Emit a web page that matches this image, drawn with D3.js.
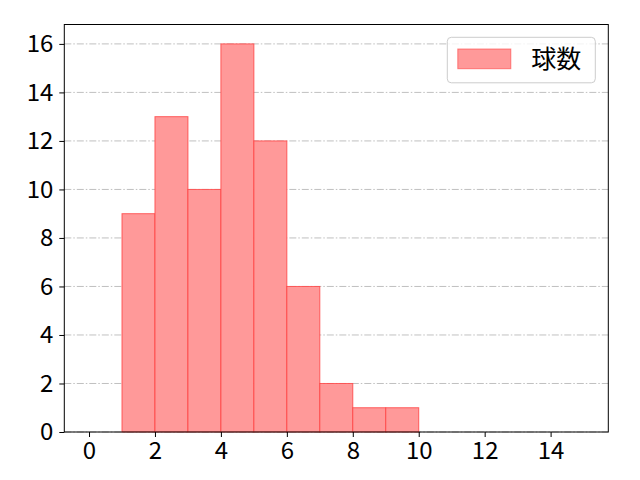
<!DOCTYPE html>
<html>
<head>
<meta charset="utf-8">
<script src="https://cdn.jsdelivr.net/npm/d3@7"></script>
<style>
  body { margin: 0; background: #fff; }
  svg text { font-family: "Noto Sans CJK JP", "Noto Sans", sans-serif; fill: #000; }
  .grid line { stroke: #b0b0b0; stroke-width: 0.8; stroke-dasharray: 7 2 1.5 2; }
  .axis path, .axis line { stroke: #000; }
</style>
</head>
<body>
<div id="chart"></div>
<script>
// Bin left edges (width 1) and pitch counts per bin
var binStarts = [0, 1, 2, 3, 4, 5, 6, 7, 8, 9, 10, 11, 12, 13, 14];
var counts = [0, 9, 13, 10, 16, 12, 6, 2, 1, 1, 0, 0, 0, 0, 0];
var xTicks = [0, 2, 4, 6, 8, 10, 12, 14];
var yTicks = [0, 2, 4, 6, 8, 10, 12, 14, 16];
var seriesName = "球数";

var width = 640, height = 480;
var margins = { top: 24.5, right: 31.7, bottom: 48, left: 64.3 };
var chartWidth = width - margins.left - margins.right;
var chartHeight = height - margins.top - margins.bottom;

var svg = d3.select("#chart").append("svg")
  .attr("width", width)
  .attr("height", height);

var chart = svg.append("g")
  .attr("transform", `translate(${margins.left},${margins.top})`);

var xScale = d3.scaleLinear().domain([-0.75, 15.75]).range([0, chartWidth]);
var yScale = d3.scaleLinear().domain([0, 16.8]).range([chartHeight, 0]);

// Grid (behind bars)
chart.append("g")
  .attr("class", "grid")
  .selectAll("line")
  .data(yTicks)
  .enter()
  .append("line")
  .attr("x1", 0)
  .attr("x2", chartWidth)
  .attr("y1", d => yScale(d))
  .attr("y2", d => yScale(d));

// Bars
chart.append("g")
  .attr("class", "bars")
  .selectAll("rect")
  .data(binStarts.map((b, i) => ({ start: b, count: counts[i] })).filter(d => d.count > 0))
  .enter()
  .append("rect")
  .attr("x", d => xScale(d.start))
  .attr("y", d => yScale(d.count))
  .attr("width", d => xScale(d.start + 1) - xScale(d.start))
  .attr("height", d => yScale(0) - yScale(d.count))
  .attr("fill", "#ff9999")
  .attr("stroke", "#ff4040")
  .attr("stroke-opacity", 0.8)
  .attr("stroke-width", 1);

// Axes
var xAxis = d3.axisBottom(xScale).tickValues(xTicks).tickSize(5).tickPadding(5).tickFormat(d3.format("d"));
var yAxis = d3.axisLeft(yScale).tickValues(yTicks).tickSize(5).tickPadding(6).tickFormat(d3.format("d"));

chart.append("g")
  .attr("class", "x axis")
  .attr("transform", `translate(0,${chartHeight})`)
  .call(xAxis)
  .call(g => g.select(".domain").remove())
  .selectAll("text")
  .style("font-size", "24px");

chart.append("g")
  .attr("class", "y axis")
  .call(yAxis)
  .call(g => g.select(".domain").remove())
  .selectAll("text")
  .style("font-size", "24px");

// Frame
chart.append("rect")
  .attr("x", 0)
  .attr("y", 0)
  .attr("width", chartWidth)
  .attr("height", chartHeight)
  .attr("fill", "none")
  .attr("stroke", "#000")
  .attr("stroke-width", 1);

// Legend
var legend = chart.append("g")
  .attr("transform", `translate(${chartWidth - 161},${12.8})`);
legend.append("rect")
  .attr("width", 148)
  .attr("height", 45.5)
  .attr("rx", 4)
  .attr("fill", "#fff")
  .attr("fill-opacity", 0.8)
  .attr("stroke", "#cccccc");
legend.append("rect")
  .attr("x", 10.5)
  .attr("y", 11.7)
  .attr("width", 53)
  .attr("height", 19.7)
  .attr("fill", "#ff9999")
  .attr("stroke", "#ff4040")
  .attr("stroke-opacity", 0.6);
legend.append("text")
  .attr("x", 84)
  .attr("y", 21.5)
  .attr("dy", "0.35em")
  .style("font-size", "25px")
  .text(seriesName);
</script>
</body>
</html>
